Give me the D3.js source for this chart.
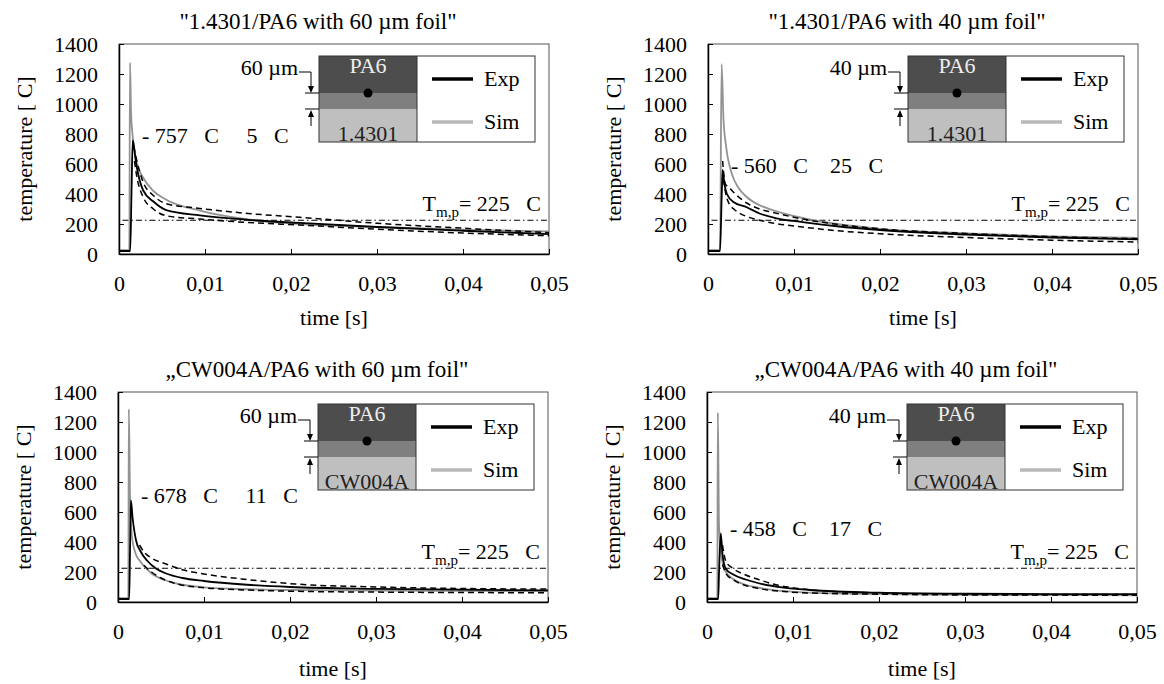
<!DOCTYPE html>
<html>
<head>
<meta charset="utf-8">
<script src="https://cdn.jsdelivr.net/npm/d3@7"></script>
<style>
  body { margin: 0; background: #fff; }
  text { font-family: "Liberation Serif", "Times New Roman", serif; font-size: 22px; fill: #000; }
</style>
</head>
<body>
<svg id="chart" width="1164" height="684"></svg>
<script>
// ticks
const yTicks = [0, 200, 400, 600, 800, 1000, 1200, 1400];
const xTicks = [0, 0.01, 0.02, 0.03, 0.04, 0.05];
const meltTemp = 225;

// 1.4301 / PA6, 60 um  -- [time s, temperature C]
const expA = [[0,20],[0.0013,20],[0.00145,400],[0.0016,757],[0.002,600],[0.0028,425],[0.004,350],[0.0055,293],[0.0094,258],[0.015,228],[0.021,207],[0.03,180],[0.04,155],[0.05,133]];
const simA = [[0,25],[0.0012,25],[0.00128,1275],[0.0014,950],[0.0016,780],[0.002,620],[0.0028,510],[0.004,420],[0.0055,362],[0.0094,289],[0.015,230],[0.021,200],[0.03,180],[0.04,163],[0.05,150]];
const upA = [[0.0017,720],[0.002,640],[0.0028,480],[0.004,390],[0.0055,335],[0.0094,304],[0.015,270],[0.021,245],[0.03,205],[0.04,172],[0.05,142]];
const loA = [[0.0018,620],[0.002,540],[0.0028,380],[0.004,300],[0.0055,255],[0.0094,233],[0.015,210],[0.021,193],[0.03,165],[0.04,140],[0.05,122]];

// 1.4301 / PA6, 40 um
const expB = [[0,20],[0.0014,20],[0.0016,400],[0.0017,560],[0.0019,470],[0.0022,400],[0.003,345],[0.0045,312],[0.006,270],[0.008,238],[0.011,213],[0.015,185],[0.02,160],[0.03,130],[0.04,110],[0.05,97]];
const simB = [[0,25],[0.0014,25],[0.00158,1265],[0.0018,900],[0.0021,720],[0.0028,530],[0.0035,445],[0.0045,380],[0.006,325],[0.0075,293],[0.011,240],[0.015,200],[0.02,168],[0.03,138],[0.04,118],[0.05,107]];
const upB = [[0.0017,620],[0.002,470],[0.0025,440],[0.003,410],[0.0045,340],[0.006,300],[0.0075,278],[0.011,233],[0.015,198],[0.02,168],[0.03,137],[0.04,116],[0.05,102]];
const loB = [[0.0018,500],[0.002,420],[0.0025,330],[0.003,300],[0.0045,250],[0.006,225],[0.0075,207],[0.011,180],[0.015,155],[0.02,135],[0.03,110],[0.04,92],[0.05,80]];

// CW004A / PA6, 60 um
const expC = [[0,20],[0.0013,20],[0.0014,350],[0.0015,678],[0.0017,560],[0.0021,410],[0.0026,340],[0.0034,275],[0.0045,220],[0.0056,190],[0.0075,160],[0.01,140],[0.015,115],[0.02,100],[0.03,88],[0.04,82],[0.05,78]];
const simC = [[0,25],[0.0012,25],[0.00126,1285],[0.0014,700],[0.0016,450],[0.002,330],[0.0026,270],[0.0039,190],[0.0055,145],[0.007,120],[0.01,98],[0.015,85],[0.02,80],[0.03,76],[0.04,74],[0.05,73]];
const upC = [[0.0025,380],[0.003,335],[0.004,290],[0.0056,253],[0.0075,215],[0.01,187],[0.015,150],[0.0206,120],[0.03,100],[0.04,90],[0.05,86]];
const loC = [[0.003,245],[0.0039,200],[0.005,160],[0.0069,120],[0.01,95],[0.015,80],[0.02,72],[0.03,66],[0.04,63],[0.05,62]];

// CW004A / PA6, 40 um
const expD = [[0,20],[0.0013,20],[0.0014,200],[0.0016,458],[0.0018,320],[0.0022,220],[0.003,185],[0.0045,150],[0.006,125],[0.0089,96],[0.012,80],[0.02,62],[0.03,55],[0.04,53],[0.05,52]];
const simD = [[0,25],[0.0012,25],[0.00126,1262],[0.0014,500],[0.0017,300],[0.0022,200],[0.003,155],[0.0045,115],[0.006,95],[0.009,72],[0.012,62],[0.02,52],[0.03,48],[0.04,46],[0.05,45]];
const upD = [[0.0018,380],[0.0022,270],[0.003,225],[0.0045,180],[0.006,150],[0.008,115],[0.01,95],[0.015,70],[0.02,60],[0.03,52],[0.04,50],[0.05,50]];
const loD = [[0.0018,250],[0.0022,190],[0.003,150],[0.0045,110],[0.006,90],[0.0089,70],[0.012,60],[0.02,52],[0.03,47],[0.04,46],[0.05,45]];

const panels = [
  { title: '"1.4301/PA6 with 60 µm foil"', thick: "60 µm", base: "1.4301", note: "- 757   C     5   C", peak: 757,
    exp: expA, sim: simA, up: upA, lo: loA, left: 119, top: 44, xlab: 71 },
  { title: '"1.4301/PA6 with 40 µm foil"', thick: "40 µm", base: "1.4301", note: "- 560   C    25   C", peak: 560,
    exp: expB, sim: simB, up: upB, lo: loB, left: 708, top: 44, xlab: 71 },
  { title: '„CW004A/PA6 with 60 µm foil"', thick: "60 µm", base: "CW004A", note: "- 678   C     11   C", peak: 678,
    exp: expC, sim: simC, up: upC, lo: loC, left: 118, top: 392, xlab: 74 },
  { title: '„CW004A/PA6 with 40 µm foil"', thick: "40 µm", base: "CW004A", note: "- 458   C    17   C", peak: 458,
    exp: expD, sim: simD, up: upD, lo: loD, left: 707, top: 392, xlab: 74 }
];

const svg = d3.select("#chart");
const W = 430, H = 210;
const fmtX = d => d === 0 ? "0" : d3.format(".2f")(d).replace(".", ",");

panels.forEach(p => {
  const x = d3.scaleLinear().domain([0, 0.05]).range([0, W]);
  const y = d3.scaleLinear().domain([0, 1400]).range([H, 0]);
  const g = svg.append("g").attr("transform", `translate(${p.left},${p.top})`);

  // frame
  g.append("rect").attr("width", W).attr("height", H)
    .attr("fill", "none").attr("stroke", "#555").attr("stroke-width", 1);

  // melting line
  g.append("line")
    .attr("x1", x(0.0004)).attr("x2", x(0.05))
    .attr("y1", y(meltTemp)).attr("y2", y(meltTemp))
    .attr("stroke", "#000").attr("stroke-width", 1.2)
    .attr("stroke-dasharray", "6,3,1.5,3");

  const line = d3.line().x(d => x(d[0])).y(d => y(d[1])).curve(d3.curveMonotoneX);

  g.append("path").datum(p.sim).attr("d", line)
    .attr("fill", "none").attr("stroke", "#939393").attr("stroke-width", 1.8);
  [p.up, p.lo].forEach(s => {
    g.append("path").datum(s).attr("d", line)
      .attr("fill", "none").attr("stroke", "#000").attr("stroke-width", 1.5)
      .attr("stroke-dasharray", "6,4");
  });
  g.append("path").datum(p.exp).attr("d", line)
    .attr("fill", "none").attr("stroke", "#000").attr("stroke-width", 1.8);

  // axes
  const ax = g.append("g").call(d3.axisLeft(y).tickValues(yTicks).tickFormat(d3.format("d"))
    .tickSizeInner(-5).tickSizeOuter(0).tickPadding(21));
  const bx = g.append("g").attr("transform", `translate(0,${H})`)
    .call(d3.axisBottom(x).tickValues(xTicks).tickFormat(fmtX)
      .tickSizeInner(-5).tickSizeOuter(0).tickPadding(21));
  [ax, bx].forEach(a => {
    a.attr("font-size", null).attr("font-family", null);
    a.select(".domain").attr("stroke", "#000").attr("stroke-width", 1.5);
    a.selectAll(".tick line").attr("stroke", "#000");
  });

  // titles and axis labels
  g.append("text").attr("x", 199).attr("y", -15).attr("text-anchor", "middle")
    .style("font-size", "23px").text(p.title);
  g.append("text").attr("x", W / 2).attr("y", H + p.xlab).attr("text-anchor", "middle").text("time [s]");
  g.append("text").attr("transform", `translate(-87,${H / 2}) rotate(-90)`)
    .attr("text-anchor", "middle").text("temperature [ C]");

  // peak note
  g.append("text").attr("x", 23).attr("y", y(p.peak) + 3)
    .style("white-space", "pre").text(p.note);

  // melting temperature label
  const tm = g.append("text").attr("x", W - 8).attr("y", y(meltTemp) - 9)
    .attr("text-anchor", "end").style("white-space", "pre");
  tm.append("tspan").text("T");
  tm.append("tspan").attr("dy", 6).style("font-size", "15px").text("m,p");
  tm.append("tspan").attr("dy", -6).text("= 225   C");

  // layer sketch + legend
  const lg = g.append("g").attr("transform", "translate(200,12)");
  lg.append("rect").attr("width", 98).attr("height", 37).attr("fill", "#4d4d4d");
  lg.append("rect").attr("y", 37).attr("width", 98).attr("height", 16).attr("fill", "#7f7f7f");
  lg.append("rect").attr("y", 53).attr("width", 98).attr("height", 33).attr("fill", "#bfbfbf");
  lg.append("rect").attr("x", 98).attr("width", 118).attr("height", 86).attr("fill", "#fff");
  lg.append("rect").attr("width", 216).attr("height", 86).attr("fill", "none").attr("stroke", "#333");
  lg.append("line").attr("x1", 98).attr("x2", 98).attr("y1", 0).attr("y2", 86).attr("stroke", "#333");
  lg.append("circle").attr("cx", 49).attr("cy", 37).attr("r", 4.5).attr("fill", "#000");
  lg.append("text").attr("x", 49).attr("y", 17).attr("text-anchor", "middle")
    .style("fill", "#eee").text("PA6");
  lg.append("text").attr("x", 49).attr("y", 85).attr("text-anchor", "middle")
    .style("fill", "#222").text(p.base);

  lg.append("line").attr("x1", 113).attr("x2", 154).attr("y1", 23).attr("y2", 23)
    .attr("stroke", "#000").attr("stroke-width", 3.5);
  lg.append("text").attr("x", 165).attr("y", 30).text("Exp");
  lg.append("line").attr("x1", 113).attr("x2", 154).attr("y1", 66).attr("y2", 66)
    .attr("stroke", "#b8b8b8").attr("stroke-width", 3.5);
  lg.append("text").attr("x", 165).attr("y", 73).text("Sim");

  // thickness marker
  lg.append("text").attr("x", -21).attr("y", 19).attr("text-anchor", "end").text(p.thick);
  lg.append("path").attr("d", "M-20,16H-8V31").attr("fill", "none").attr("stroke", "#000");
  lg.append("path").attr("d", "M-11,30L-5,30L-8,37Z").attr("fill", "#000");
  lg.append("line").attr("x1", -14).attr("x2", 0).attr("y1", 37).attr("y2", 37).attr("stroke", "#000");
  lg.append("line").attr("x1", -14).attr("x2", 0).attr("y1", 53).attr("y2", 53).attr("stroke", "#000");
  lg.append("path").attr("d", "M-8,60V70").attr("fill", "none").attr("stroke", "#000");
  lg.append("path").attr("d", "M-11,61L-5,61L-8,54Z").attr("fill", "#000");
});
</script>
</body>
</html>
